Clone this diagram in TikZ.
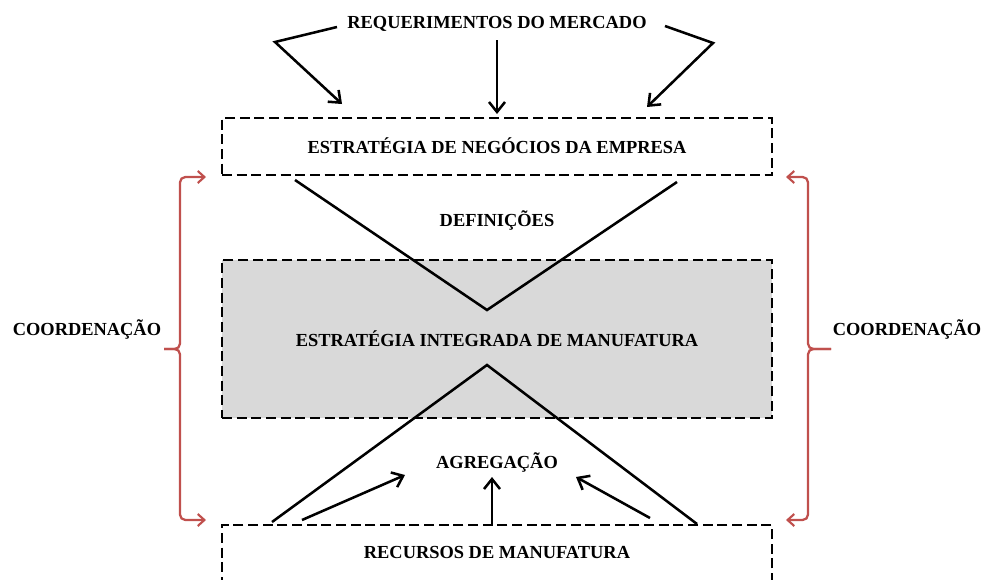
\documentclass[tikz,border=0pt]{standalone}
\usepackage{fontspec}
\setmainfont{Liberation Serif}
\usetikzlibrary{arrows.meta}
\definecolor{bracered}{RGB}{192,80,77}
\definecolor{boxgray}{RGB}{217,217,217}
\begin{document}
\begin{tikzpicture}[x=0.75pt,y=-0.75pt,
  lbl/.style={font=\fontsize{13.8}{15}\selectfont\bfseries, inner sep=1pt},
  dbox/.style={draw, line width=1.8pt, dash pattern=on 7.5pt off 3.5pt, minimum width=412.5pt, inner sep=0pt},
  blk/.style={line width=1.9pt},
  arr/.style={line width=1.9pt, -{Straight Barb[length=7.5pt,width=12pt,line width=1.9pt]}},
  brc/.style={draw=bracered, line width=1.7pt, rounded corners=4pt, -{Straight Barb[length=5pt,width=9pt,line width=1.6pt]}}]
\path[use as bounding box] (0,0) rectangle (986,579);
\clip (0,0) rectangle (986,579);
% boxes
\node[dbox, minimum height=42.75pt] (neg) at (497,146.5) {};
\node[lbl] (negt) at (497,146) {ESTRATÉGIA DE NEGÓCIOS DA EMPRESA};
\node[dbox, fill=boxgray, minimum height=118.5pt] (int) at (497,339) {};
\node[lbl] (intt) at (497,339) {ESTRATÉGIA INTEGRADA DE MANUFATURA};
\node[dbox, minimum height=60pt] (rec) at (497,565) {};
\node[lbl] (rect) at (497,552) {RECURSOS DE MANUFATURA};
% labels
\node[lbl] (req) at (497,24) {REQUERIMENTOS DO MERCADO};
\node[lbl] (def) at (497,220) {DEFINIÇÕES};
\node[lbl] (agr) at (497,462) {AGREGAÇÃO};
\node[lbl] (coL) at (87,329) {COORDENAÇÃO};
\node[lbl] (coR) at (907,329) {COORDENAÇÃO};
% top arrows
\coordinate (t1a) at (337,27); \coordinate (t1b) at (275,42); \coordinate (t1c) at (342,104);
\coordinate (t2a) at (497,40); \coordinate (t2c) at (497,114);
\coordinate (t3a) at (665,26); \coordinate (t3b) at (713,43); \coordinate (t3c) at (647,107);
\draw[arr] (t1a) -- (t1b) -- (t1c);
\draw[arr] (t2a) -- (t2c);
\draw[arr] (t3a) -- (t3b) -- (t3c);
% V lines
\coordinate (v1) at (295,180); \coordinate (v2) at (487,310); \coordinate (v3) at (677,182);
\draw[blk] (v1) -- (v2) -- (v3);
\coordinate (w1) at (272,522); \coordinate (w2) at (487,365); \coordinate (w3) at (697,524);
\draw[blk] (w1) -- (w2) -- (w3);
% bottom arrows
\coordinate (b1a) at (302,520); \coordinate (b1c) at (405,475);
\coordinate (b2a) at (492,524); \coordinate (b2c) at (492,477);
\coordinate (b3a) at (650,518); \coordinate (b3c) at (576,477);
\draw[arr] (b1a) -- (b1c);
\draw[arr] (b2a) -- (b2c);
\draw[arr] (b3a) -- (b3c);
% braces
\coordinate (lm) at (164,349); \coordinate (lt) at (206,177); \coordinate (lb) at (206,520);
\draw[brc] (lm) -- (180,349) -- (180,177) -- (lt);
\draw[brc] (lm) -- (180,349) -- (180,520) -- (lb);
\coordinate (rm) at (831,349); \coordinate (rt) at (786,177); \coordinate (rb) at (786,520);
\draw[brc] (rm) -- (808,349) -- (808,177) -- (rt);
\draw[brc] (rm) -- (808,349) -- (808,520) -- (rb);
\end{tikzpicture}
\end{document}
